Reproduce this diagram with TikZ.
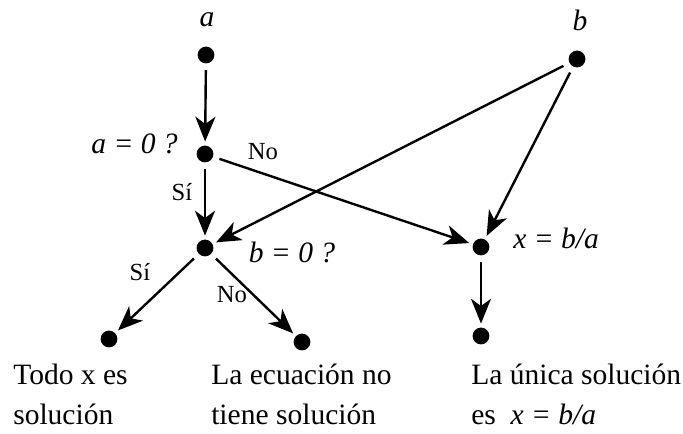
\documentclass[tikz,border=0pt]{standalone}
\usepackage{fontspec}
\setmainfont{Liberation Serif}
\usetikzlibrary{arrows.meta}

\begin{document}
\begin{tikzpicture}[x=1cm, y=1cm, font=\fontsize{21}{28.5}\selectfont,
  punto/.style={circle, fill=black, inner sep=0pt, minimum size=0.42cm, outer sep=0.1cm},
  flecha/.style={line width=1.7pt, shorten <=2pt,
    -{Stealth[length=6.2mm, width=5mm, inset=1.8mm]}},
  rotulo/.style={inner sep=0pt},
  sino/.style={inner sep=0pt, font=\fontsize{17.5}{20}\selectfont}]
\useasboundingbox (0,0) rectangle (17.075,10.85);
% puntos
\node[punto] (a)  at (5.15,9.475) {};
\node[punto] (qa) at (5.125,7.0) {};
\node[punto] (qb) at (5.125,4.65) {};
\node[punto] (b)  at (14.425,9.375) {};
\node[punto] (x)  at (12.025,4.675) {};
\node[punto] (xs) at (12.025,2.45) {};
\node[punto] (todo)  at (2.725,2.375) {};
\node[punto] (nosol) at (7.55,2.3) {};
% rotulos de los puntos
\node[rotulo] (la) at (5.175,10.35) {\textit{a}};
\node[rotulo] (lb) at (14.5,10.35) {\textit{b}};
\node[rotulo, anchor=east] (lqa) at (4.45,7.25) {\textit{a = 0 ?}};
\node[rotulo] (lqb) at (7.3,4.55) {\textit{b = 0 ?}};
\node[rotulo, anchor=west] (lx) at (12.825,4.9) {\textit{x = b/a}};
% flechas
\draw[flecha] (a) -- (qa);
\draw[flecha] (qa) -- (qb);
\draw[flecha] (qa) -- (x);
\draw[flecha] (b) -- (qb);
\draw[flecha] (b) -- (x);
\draw[flecha] (x) -- (xs);
\draw[flecha] (qb) -- (todo);
\draw[flecha] (qb) -- (nosol);
% si / no
\node[sino] (no1) at (6.575,7.05) {No};
\node[sino] (si1) at (4.55,6.05) {Sí};
\node[sino] (si2) at (3.5,4.05) {Sí};
\node[sino] (no2) at (5.8,3.475) {No};
% resultados
\node[rotulo, anchor=base west, align=left] (rtodo) at (0.325,0.225) {Todo x es\\solución};
\node[rotulo, anchor=base west, align=left] (rnosol) at (5.275,0.225) {La ecuación no\\tiene solución};
\node[rotulo, anchor=base west, align=left] (runica) at (11.775,0.225) {La única solución\\es\ \ \textit{x = b/a}};
\end{tikzpicture}
\end{document}
